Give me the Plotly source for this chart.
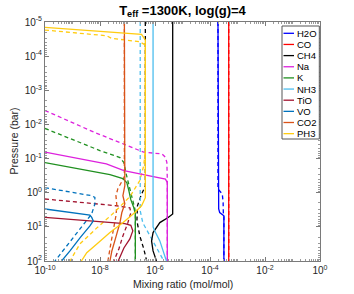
import plotly.graph_objects as go

# ---------------- data ----------------
species = ["H2O", "CO", "CH4", "Na", "K", "NH3", "TiO", "VO", "CO2", "PH3"]
colors = ["#0000ff", "#ff0000", "#000000", "#dd22dd", "#209020",
          "#4dbeee", "#a2142f", "#0072bd", "#d95319", "#ffcc11"]

# solid-line profiles (mixing ratio, pressure in bar)
H2O_x = [1.95e-4, 1.95e-4, 2.07e-4, 2.25e-4, 3.2e-4, 3.2e-4]
H2O_p = [1e-5, 2.4, 2.96, 3.8, 4.75, 100]
CO_x = [4.8e-4, 4.8e-4]
CO_p = [1e-5, 100]
CH4_x = [4.4e-6, 4.4e-6, 3.0e-6, 1.5e-6, 8.5e-7, 7.5e-7, 8.5e-7, 1.13e-6]
CH4_p = [1e-5, 4.2, 5.3, 7.5, 14.7, 25.8, 50.8, 100]
Na_x = [1e-10, 1.7e-8, 7.4e-8, 2.4e-6, 2.8e-6, 2.8e-6]
Na_p = [0.065, 0.143, 0.225, 0.40, 0.51, 100]
K_x = [1e-10, 2.8e-9, 2.3e-8, 6.8e-8, 9.5e-8, 1.12e-7, 1.32e-7, 1.7e-7, 1.93e-7, 1.93e-7]
K_p = [0.131, 0.211, 0.296, 0.387, 0.51, 0.87, 1.6, 2.76, 4.15, 100]
NH3_x = [8.5e-7, 8.5e-7, 9.5e-7, 1.5e-6, 2.6e-6]
NH3_p = [1e-5, 10.0, 12.5, 25.8, 100]
TiO_x = [1e-10, 9.9e-9, 8.0e-8, 1.32e-7, 1.56e-7, 1.22e-7, 7.4e-8, 4.6e-8]
TiO_p = [5.3, 6.9, 8.0, 9.0, 13.1, 22.5, 41.5, 100]
VO_x = [1e-10, 4.3e-9, 5.0e-9, 5.7e-9, 4.3e-9, 1.9e-9, 8.1e-10, 4.0e-10]
VO_p = [3.0, 4.5, 5.3, 6.7, 9.4, 20.6, 50.8, 100]
CO2_x = [7.7e-8, 7.7e-8, 8.0e-8, 6.8e-8, 8.0e-8, 6.2e-8, 5.3e-8, 3.8e-8, 2.7e-8, 2.3e-8]
CO2_p = [1e-5, 0.387, 0.62, 1.22, 2.11, 3.87, 7.6, 19.7, 50.8, 100]
PH3_x = [1e-10, 3.24e-7, 4.45e-7, 4.45e-7, 3.24e-7, 1.85e-7, 6.95e-8, 2.3e-8, 7.5e-9, 3.3e-9, 2.1e-9]
PH3_p = [1.43e-5, 2.3e-5, 3.38e-5, 1.4, 2.41, 3.8, 7.5, 14.7, 32.3, 57, 100]

# dashed-line profiles
H2O_dx = [1.95e-4, 1.95e-4, 2.8e-4, 3.0e-4, 3.05e-4, 3.2e-4, 3.2e-4]
H2O_dp = [1e-5, 0.78, 1.09, 1.93, 3.8, 4.75, 100]
CO_dx = [4.8e-4, 4.8e-4]
CO_dp = [1e-5, 100]
CH4_dx = [4.45e-7, 4.45e-7, 3.1e-7, 2.3e-7, 2.2e-7, 2.8e-7, 3.9e-7, 5.0e-7]
CH4_dp = [1e-5, 0.62, 1.22, 2.41, 6.7, 18.4, 44, 100]
Na_dx = [1e-10, 6e-9, 3.9e-7, 1.8e-6, 2.4e-6, 2.7e-6, 2.8e-6, 2.8e-6]
Na_dp = [3.9e-3, 0.0168, 0.065, 0.073, 0.092, 0.13, 0.39, 100]
K_dx = [1e-10, 1.23e-9, 9.9e-9, 5.3e-8, 7.4e-8, 8.7e-8, 1.12e-7, 1.44e-7, 1.85e-7, 1.93e-7, 1.93e-7]
K_dp = [0.0131, 0.0296, 0.0582, 0.0935, 0.131, 0.258, 0.62, 1.4, 2.96, 4.4, 100]
NH3_dx = [2.9e-7, 2.9e-7, 3.6e-7, 6.5e-7, 1.16e-6, 2.1e-6]
NH3_dp = [1e-5, 3.4, 7.6, 18.4, 41.5, 100]
TiO_dx = [1e-10, 5.66e-9, 4.0e-8, 1.22e-7, 1.32e-7, 1.03e-7, 6.8e-8, 4.85e-8, 3.2e-8]
TiO_dp = [1.53, 2.06, 2.41, 2.76, 3.87, 7.6, 18.4, 44.4, 100]
VO_dx = [1e-10, 4.95e-9, 6.5e-9, 6.5e-9, 4.95e-9, 1.86e-9, 6.1e-10, 2.3e-10]
VO_dp = [0.713, 1.22, 1.37, 2.15, 4.23, 11.7, 36.2, 100]
CO2_dx = [7.7e-8, 7.7e-8, 6.2e-8, 4.47e-8, 3.8e-8, 4.1e-8, 3.8e-8, 3.2e-8, 2.5e-8, 1.94e-8]
CO2_dp = [1e-5, 0.338, 0.474, 0.76, 1.22, 2.41, 4.75, 11.5, 29.6, 100]
PH3_dx = [1e-10, 1.74e-8, 2.6e-8, 2.8e-7, 4.45e-7, 4.45e-7, 3.9e-7, 2.8e-7, 1.22e-7, 2.9e-8, 7.7e-9, 1.86e-9, 8.1e-10]
PH3_dp = [1.72e-5, 2.53e-5, 3.0e-5, 3.8e-5, 4.7e-5, 0.058, 0.16, 0.44, 1.31, 4.15, 10.7, 31.6, 100]

solid = {"H2O": (H2O_x, H2O_p), "CO": (CO_x, CO_p), "CH4": (CH4_x, CH4_p),
         "Na": (Na_x, Na_p), "K": (K_x, K_p), "NH3": (NH3_x, NH3_p),
         "TiO": (TiO_x, TiO_p), "VO": (VO_x, VO_p), "CO2": (CO2_x, CO2_p),
         "PH3": (PH3_x, PH3_p)}
dashed = {"H2O": (H2O_dx, H2O_dp), "CO": (CO_dx, CO_dp), "CH4": (CH4_dx, CH4_dp),
          "Na": (Na_dx, Na_dp), "K": (K_dx, K_dp), "NH3": (NH3_dx, NH3_dp),
          "TiO": (TiO_dx, TiO_dp), "VO": (VO_dx, VO_dp), "CO2": (CO2_dx, CO2_dp),
          "PH3": (PH3_dx, PH3_dp)}

x_ticks = [1e-10, 1e-8, 1e-6, 1e-4, 1e-2, 1]
x_ticktext = ["10<sup>-10</sup>", "10<sup>-8</sup>", "10<sup>-6</sup>",
              "10<sup>-4</sup>", "10<sup>-2</sup>", "10<sup>0</sup>"]
y_ticks = [1e-5, 1e-4, 1e-3, 1e-2, 1e-1, 1, 10, 100]
y_ticktext = ["10<sup>-5</sup>", "10<sup>-4</sup>", "10<sup>-3</sup>", "10<sup>-2</sup>",
              "10<sup>-1</sup>", "10<sup>0</sup>", "10<sup>1</sup>", "10<sup>2</sup>"]

# ---------------- figure ----------------
FONT = "Liberation Sans, Arial, Helvetica, sans-serif"
TXT = "#262626"
fig = go.Figure()

for name, col in zip(species, colors):
    dx, dp = dashed[name]
    fig.add_trace(go.Scatter(x=dx, y=dp, mode="lines", showlegend=False,
                             line=dict(color=col, width=1.3, dash="4px,3px")))
for name, col in zip(species, colors):
    sx, sp = solid[name]
    fig.add_trace(go.Scatter(x=sx, y=sp, mode="lines", name=name, showlegend=False,
                             line=dict(color=col, width=1.3)))

W, H = 354, 294
ML, MR, MT, MB = 45, 34, 22, 33
pw, ph = W - ML - MR, H - MT - MB


def px2paper(px, py):
    return (px - ML) / pw, 1 - (py - MT) / ph


# compact legend (MATLAB style)
bx0, by0 = px2paper(282, 26)
bx1, by1 = px2paper(319.3, 139)
shapes = [dict(type="rect", xref="paper", yref="paper", x0=bx0, x1=bx1, y0=by1, y1=by0,
               line=dict(color="#555555", width=1), fillcolor="white", layer="above")]
annotations = []
for i, (name, col) in enumerate(zip(species, colors)):
    yc = 33.3 + i * 11.15
    lx0, ly = px2paper(283.5, yc)
    lx1, _ = px2paper(294, yc)
    shapes.append(dict(type="line", xref="paper", yref="paper", x0=lx0, x1=lx1, y0=ly, y1=ly,
                       line=dict(color=col, width=1.3), layer="above"))
    tx, _ = px2paper(294.5, yc)
    annotations.append(dict(text=name, xref="paper", yref="paper", x=tx, y=ly,
                            xanchor="left", yanchor="middle", showarrow=False,
                            font=dict(size=9.5, color="#000000", family=FONT)))

# axis titles
xt, yt = px2paper(ML + pw / 2, 284)
annotations.append(dict(text="Mixing ratio (mol/mol)", xref="paper", yref="paper",
                        x=xt, y=yt, xanchor="center", yanchor="middle", showarrow=False,
                        font=dict(size=10.5, color=TXT, family=FONT)))
xt, yt = px2paper(13, MT + ph / 2)
annotations.append(dict(text="Pressure (bar)", xref="paper", yref="paper", textangle=-90,
                        x=xt, y=yt, xanchor="center", yanchor="middle", showarrow=False,
                        font=dict(size=10.5, color=TXT, family=FONT)))

axis_common = dict(type="log", showgrid=False, zeroline=False, showline=True,
                   automargin=False,
                   linecolor="#7a7a7a", linewidth=1, mirror="allticks",
                   ticks="inside", ticklen=4, tickcolor="#7a7a7a", tickwidth=1,
                   tickfont=dict(size=10, color=TXT, family=FONT),
                   minor=dict(ticks="inside", ticklen=2, tickcolor="#9a9a9a",
                              tickwidth=1, dtick="D1", showgrid=False))

fig.update_layout(
    width=W, height=H,
    margin=dict(l=ML, r=MR, t=MT, b=MB, pad=0, autoexpand=False),
    paper_bgcolor="white", plot_bgcolor="white",
    font=dict(family=FONT, color=TXT, size=10),
    title=dict(text="<b>T<sub>eff</sub> =1300K, log(g)=4</b>", x=(ML + pw / 2) / W,
               xanchor="center", y=1 - 10 / H, yanchor="middle",
               font=dict(size=13, color="#000000", family=FONT)),
    xaxis=dict(axis_common, range=[-10, 0], tickmode="array", tickvals=x_ticks,
               ticktext=x_ticktext),
    yaxis=dict(axis_common, range=[2, -5], tickmode="array", tickvals=y_ticks,
               ticktext=y_ticktext),
    shapes=shapes, annotations=annotations, showlegend=False,
)

fig.write_html("out.html", config={"displayModeBar": False},
               post_script="document.body.style.margin='0px';document.body.style.padding='0px';")
